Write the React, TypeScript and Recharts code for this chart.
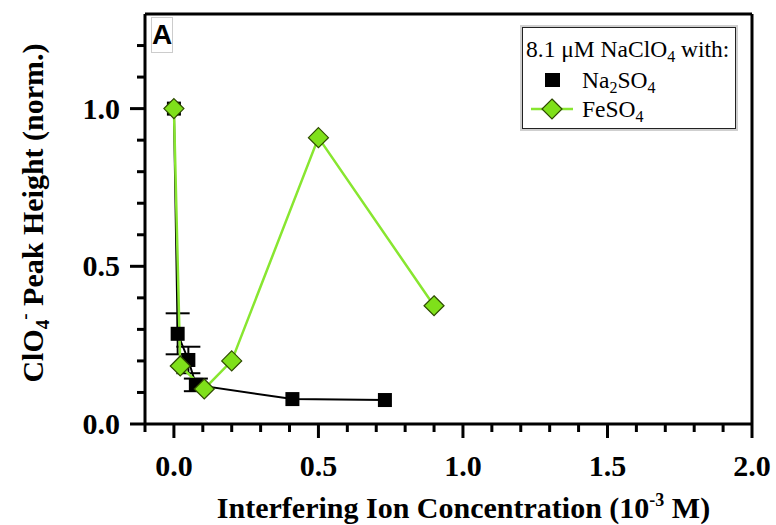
import { LineChart, Line, XAxis, YAxis, ErrorBar, ReferenceLine, Legend, Label } from "recharts";

// Na2SO4 series (black squares)
const na2so4Conc = [0, 0.013, 0.05, 0.076, 0.41, 0.73];
const na2so4Height = [1.0, 0.286, 0.203, 0.124, 0.079, 0.076];
const na2so4Err = [0, 0.065, 0.042, 0.02, 0, 0];

// FeSO4 series (green diamonds)
const feso4Conc = [0, 0.022, 0.105, 0.2, 0.5, 0.9];
const feso4Height = [1.0, 0.184, 0.111, 0.2, 0.908, 0.375];

const xTicks = [-0.1, 0, 0.1, 0.2, 0.3, 0.4, 0.5, 0.6, 0.7, 0.8, 0.9, 1.0, 1.1, 1.2, 1.3, 1.4, 1.5, 1.6, 1.7, 1.8, 1.9, 2.0];
const yTicks = [0, 0.1, 0.2, 0.3, 0.4, 0.5, 0.6, 0.7, 0.8, 0.9, 1.0, 1.1, 1.2];

const na2so4Data = na2so4Conc.map((x, i) => ({ x, y: na2so4Height[i], err: na2so4Err[i] }));
const feso4Data = feso4Conc.map((x, i) => ({ x, y: feso4Height[i] }));

const SERIF = "'Liberation Serif', 'Times New Roman', serif";
const GREEN_LINE = "#88e630";
const GREEN_FILL = "#7fe01a";

const isMajor = (v: number) => Math.abs(v * 2 - Math.round(v * 2)) < 1e-6;

const XTick = (props: any) => {
  const { x, y, payload } = props;
  const v = payload.value;
  const major = isMajor(v);
  return (
    <g>
      <line x1={x} x2={x} y1={y} y2={y + (major ? 14 : 8)} stroke="#000" strokeWidth={3} />
      {major && (
        <text x={x} y={y + 52} textAnchor="middle" fontFamily={SERIF} fontWeight="bold" fontSize={30} fill="#000">
          {v.toFixed(1)}
        </text>
      )}
    </g>
  );
};

const YTick = (props: any) => {
  const { x, y, payload } = props;
  const v = payload.value;
  const major = isMajor(v);
  return (
    <g>
      <line x1={x - (major ? 15 : 8)} x2={x} y1={y} y2={y} stroke="#000" strokeWidth={3} />
      {major && (
        <text x={x - 25} y={y + 10} textAnchor="end" fontFamily={SERIF} fontWeight="bold" fontSize={30} fill="#000">
          {v.toFixed(1)}
        </text>
      )}
    </g>
  );
};

const XTitle = (props: any) => {
  const { x, y, width } = props.viewBox;
  return (
    <text x={x + width / 2 + 15} y={y + 94} textAnchor="middle" fontFamily={SERIF} fontWeight="bold" fontSize={30} fill="#000">
      Interfering Ion Concentration (10
      <tspan dy={-12} fontSize={18}>-3</tspan>
      <tspan dy={12}> M)</tspan>
    </text>
  );
};

const YTitle = () => (
  <text
    x={43}
    y={213}
    transform="rotate(-90, 43, 213)"
    textAnchor="middle"
    fontFamily={SERIF}
    fontWeight="bold"
    fontSize={30}
    fill="#000"
  >
    ClO
    <tspan dy={6} fontSize={19}>4</tspan>
    <tspan dy={-18} fontSize={19}>-</tspan>
    <tspan dy={12}> Peak Height (norm.)</tspan>
  </text>
);

const Square = (p: any) => (
  <rect key={`sq-${p.index}`} x={p.cx - 7} y={p.cy - 7} width={14} height={14} fill="#000" />
);

const Diamond = (p: any) => (
  <polygon
    key={`dm-${p.index}`}
    points={`${p.cx},${p.cy - 10} ${p.cx + 10},${p.cy} ${p.cx},${p.cy + 10} ${p.cx - 10},${p.cy}`}
    fill={GREEN_FILL}
    stroke="#2e4a00"
    strokeWidth={1.2}
  />
);

const LegendBox = () => (
  <div
    style={{
      width: 214,
      height: 102,
      boxSizing: "border-box",
      border: "1.5px solid #222",
      boxShadow: "0 0 0 2px #cfcfcf",
      background: "#fff",
    }}
  >
    <svg width={211} height={99} style={{ display: "block" }}>
      <text x={3} y={29} fontFamily={SERIF} fontSize={23.5} fill="#000">
        8.1 μM NaClO<tspan dy={5} fontSize={16}>4</tspan>
        <tspan dy={-5}> with:</tspan>
      </text>
      <rect x={22} y={45} width={15} height={14} fill="#000" />
      <text x={59} y={60} fontFamily={SERIF} fontSize={23.5} fill="#000">
        Na<tspan dy={5} fontSize={16}>2</tspan>
        <tspan dy={-5}>SO</tspan>
        <tspan dy={5} fontSize={16}>4</tspan>
      </text>
      <line x1={8} x2={50} y1={81} y2={81} stroke={GREEN_LINE} strokeWidth={2.5} />
      <polygon points="29,71 39,81 29,91 19,81" fill={GREEN_FILL} stroke="#2e4a00" strokeWidth={1.2} />
      <text x={59} y={89} fontFamily={SERIF} fontSize={23.5} fill="#000">
        FeSO<tspan dy={5} fontSize={16}>4</tspan>
      </text>
    </svg>
  </div>
);

export default function App() {
  return (
    <div style={{ position: "fixed", top: 0, left: 0, width: 776, height: 525, background: "#fff", overflow: "hidden" }}>
      <LineChart width={776} height={525} margin={{ top: 14, right: 24, left: 0, bottom: 0 }}>
        <XAxis
          type="number"
          dataKey="x"
          domain={[-0.1, 2.0]}
          ticks={xTicks}
          allowDataOverflow
          height={101}
          tickSize={0}
          tickMargin={0}
          tickLine={false}
          tick={<XTick />}
          axisLine={{ stroke: "#000", strokeWidth: 3 }}
        >
          <Label content={<XTitle />} />
        </XAxis>
        <YAxis
          type="number"
          dataKey="y"
          domain={[0, 1.3]}
          ticks={yTicks}
          allowDataOverflow
          width={145}
          tickSize={0}
          tickMargin={0}
          tickLine={false}
          tick={<YTick />}
          axisLine={{ stroke: "#000", strokeWidth: 3 }}
        >
          <Label content={<YTitle />} />
        </YAxis>
        <ReferenceLine y={1.3} stroke="#000" strokeWidth={3} ifOverflow="visible" />
        <ReferenceLine x={2.0} stroke="#000" strokeWidth={3} ifOverflow="visible" />
        <Legend
          layout="vertical"
          align="center"
          verticalAlign="middle"
          wrapperStyle={{ position: "absolute", top: 27, left: 522, width: 214, height: 102 }}
          content={<LegendBox />}
        />
        <Line
          data={na2so4Data}
          dataKey="y"
          name="Na2SO4"
          stroke="#000"
          strokeWidth={2}
          dot={Square}
          activeDot={false}
          isAnimationActive={false}
        >
          <ErrorBar dataKey="err" direction="y" width={12} stroke="#000" strokeWidth={2} isAnimationActive={false} />
        </Line>
        <Line
          data={feso4Data}
          dataKey="y"
          name="FeSO4"
          stroke={GREEN_LINE}
          strokeWidth={2.5}
          dot={Diamond}
          activeDot={false}
          isAnimationActive={false}
        />
      </LineChart>
      <div
        style={{
          position: "absolute",
          left: 151,
          top: 17,
          width: 22,
          height: 36,
          boxSizing: "border-box",
          border: "1px solid #ccc",
          background: "#fff",
          fontFamily: "'Liberation Sans', Arial, sans-serif",
          fontWeight: "bold",
          fontSize: 28,
          lineHeight: "34px",
          textAlign: "center",
          color: "#000",
        }}
      >
        A
      </div>
    </div>
  );
}
